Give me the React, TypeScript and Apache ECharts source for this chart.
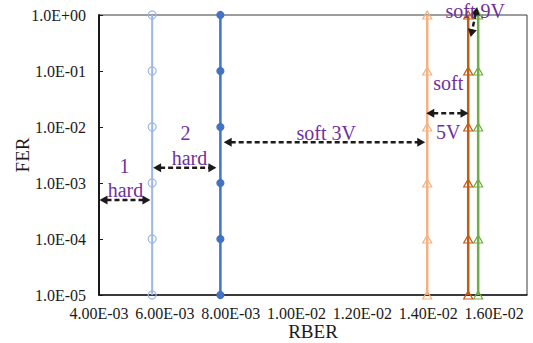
import React, { useEffect, useRef } from "react";
import * as echarts from "echarts";

// FER levels (y) for every curve
const ferLevels = [1, 1e-1, 1e-2, 1e-3, 1e-4, 1e-5];

// RBER (x) of each curve, one per FER level
const hard1Rber = [0.005615, 0.005615, 0.005615, 0.005615, 0.005615, 0.005615];
const hard2Rber = [0.007687, 0.007687, 0.007687, 0.007687, 0.007687, 0.007687];
const soft3Rber = [0.01397, 0.01397, 0.01397, 0.01397, 0.01397, 0.01397];
const soft5Rber = [0.015214, 0.015214, 0.015214, 0.015214, 0.015214, 0.015214];
const soft9Rber = [0.015517, 0.015517, 0.015517, 0.015517, 0.015517, 0.015517];

// annotation arrows: [x1, y1, x2, y2] in data units
const arrowData = [
  [0.004015, 4.97e-4, 0.005563, 4.97e-4],
  [0.005644, 1.875e-3, 0.007566, 1.875e-3],
  [0.007787, 5.33e-3, 0.013909, 5.33e-3],
  [0.013939, 0.01757, 0.015224, 0.01757],
  [0.015486, 1.389, 0.01529, 0.4046],
];

// annotation texts and their anchors
const noteTexts = ["1", "hard", "2", "hard", "soft 3V", "soft", "5V", "soft 9V"];
const noteX = [0.004774, 0.004804, 0.006625, 0.006747, 0.010904, 0.014607, 0.014607, 0.015427];
const noteY = [2.01e-3, 7.5e-4, 7.8e-3, 2.79e-3, 7.8e-3, 0.0611, 8.14e-3, 1.18];

const FONT = "'Liberation Serif', 'Times New Roman', serif";

function fmtExp(v: number, digits: number): string {
  const s = v.toExponential(digits);
  const [m, e] = s.split("e");
  const n = parseInt(e, 10);
  return m + "E" + (n < 0 ? "-" : "+") + String(Math.abs(n)).padStart(2, "0");
}

function pair(xs: number[]) {
  return xs.map((x, i) => [x, ferLevels[i]]);
}

function curve(name: string, xs: number[], color: string, symbol: string, filled: boolean, lw: number, size: number | number[]) {
  return {
    name,
    type: "line",
    data: pair(xs),
    symbol,
    symbolSize: size,
    showAllSymbol: true,
    clip: false,
    lineStyle: { color, width: lw },
    itemStyle: {
      color: filled ? color : "rgba(0,0,0,0)",
      borderColor: color,
      borderWidth: 1.2,
    },
    z: 3,
  };
}

export default function App() {
  const ref = useRef<HTMLDivElement>(null);
  useEffect(() => {
    if (!ref.current) return;
    const chart = echarts.init(ref.current, undefined, { renderer: "svg" });
    const option: any = {
      animation: false,
      backgroundColor: "#ffffff",
      grid: {
        left: 99,
        right: 6,
        top: 15,
        bottom: 48,
        containLabel: false,
        outerBoundsMode: "none",
        show: true,
        borderColor: "#3a3a3a",
        borderWidth: 1,
        backgroundColor: "transparent",
      },
      xAxis: {
        type: "value",
        min: 0.004,
        max: 0.017,
        interval: 0.002,
        name: "RBER",
        nameLocation: "middle",
        nameGap: 27,
        nameMoveOverlap: false,
        nameTextStyle: { fontFamily: FONT, fontSize: 19, color: "#1a1a1a" },
        axisLine: { show: true, lineStyle: { color: "#1a1a1a", width: 1.5 } },
        axisTick: { show: false },
        splitLine: { show: false },
        axisLabel: {
          fontFamily: FONT,
          fontSize: 16,
          color: "#1a1a1a",
          margin: 10,
          showMaxLabel: false,
          formatter: (v: number) => fmtExp(v, 2),
        },
      },
      yAxis: {
        type: "log",
        logBase: 10,
        min: 1e-5,
        max: 1,
        name: "FER",
        nameLocation: "middle",
        nameGap: 67,
        nameMoveOverlap: false,
        nameTextStyle: { fontFamily: FONT, fontSize: 19, color: "#1a1a1a" },
        axisLine: { show: true, lineStyle: { color: "#1a1a1a", width: 2 } },
        axisTick: { show: true, inside: true, length: 4, lineStyle: { color: "#1a1a1a" } },
        minorTick: { show: false },
        splitLine: { show: false },
        axisLabel: {
          fontFamily: FONT,
          fontSize: 16,
          color: "#1a1a1a",
          margin: 13,
          formatter: (v: number) => fmtExp(v, 1),
        },
      },
      series: [
        curve("1 hard", hard1Rber, "#9db6e2", "circle", false, 2, 8),
        curve("2 hard", hard2Rber, "#4472c4", "circle", true, 2.5, 7),
        curve("soft 3V", soft3Rber, "#f4b183", "triangle", false, 2.5, [9, 8]),
        curve("soft 5V", soft5Rber, "#c55a11", "triangle", false, 2.5, [9, 8]),
        curve("soft 9V", soft9Rber, "#70ad47", "triangle", false, 2.5, [9, 8]),
        {
          name: "arrows",
          type: "custom",
          coordinateSystem: "cartesian2d",
          clip: false,
          silent: true,
          z: 10,
          encode: { x: [0, 2], y: [1, 3] },
          data: arrowData,
          renderItem: (params: any, api: any) => {
            const p1 = api.coord([api.value(0), api.value(1)]);
            const p2 = api.coord([api.value(2), api.value(3)]);
            const dx = p2[0] - p1[0];
            const dy = p2[1] - p1[1];
            const len = Math.sqrt(dx * dx + dy * dy) || 1;
            const ux = dx / len;
            const uy = dy / len;
            const hl = 8;
            const hw = 4.5;
            const nx = -uy;
            const ny = ux;
            const head = (tip: number[], dir: number) => {
              const bx = tip[0] - dir * ux * hl;
              const by = tip[1] - dir * uy * hl;
              return {
                type: "polygon",
                shape: {
                  points: [
                    [tip[0], tip[1]],
                    [bx + nx * hw, by + ny * hw],
                    [bx - nx * hw, by - ny * hw],
                  ],
                },
                style: { fill: "#1a1a1a" },
              };
            };
            return {
              type: "group",
              children: [
                {
                  type: "line",
                  shape: {
                    x1: p1[0] + ux * (hl - 1),
                    y1: p1[1] + uy * (hl - 1),
                    x2: p2[0] - ux * (hl - 1),
                    y2: p2[1] - uy * (hl - 1),
                  },
                  style: { stroke: "#1a1a1a", lineWidth: 2.5, lineDash: [5, 3] },
                },
                head(p1, -1),
                head(p2, 1),
              ],
            };
          },
        },
        {
          name: "notes",
          type: "custom",
          coordinateSystem: "cartesian2d",
          clip: false,
          silent: true,
          z: 11,
          data: noteX.map((x, i) => [x, noteY[i]]),
          renderItem: (params: any, api: any) => {
            const p = api.coord([api.value(0), api.value(1)]);
            return {
              type: "text",
              x: p[0],
              y: p[1],
              style: {
                text: noteTexts[params.dataIndex],
                fill: "#7030a0",
                font: "20px " + FONT,
                align: "center",
                verticalAlign: "middle",
              },
            };
          },
        },
      ],
    };
    chart.setOption(option);
    return () => chart.dispose();
  }, []);
  return (
    <div
      ref={ref}
      style={{ position: "fixed", left: 0, top: 0, width: 533, height: 343, background: "#fff" }}
    />
  );
}
